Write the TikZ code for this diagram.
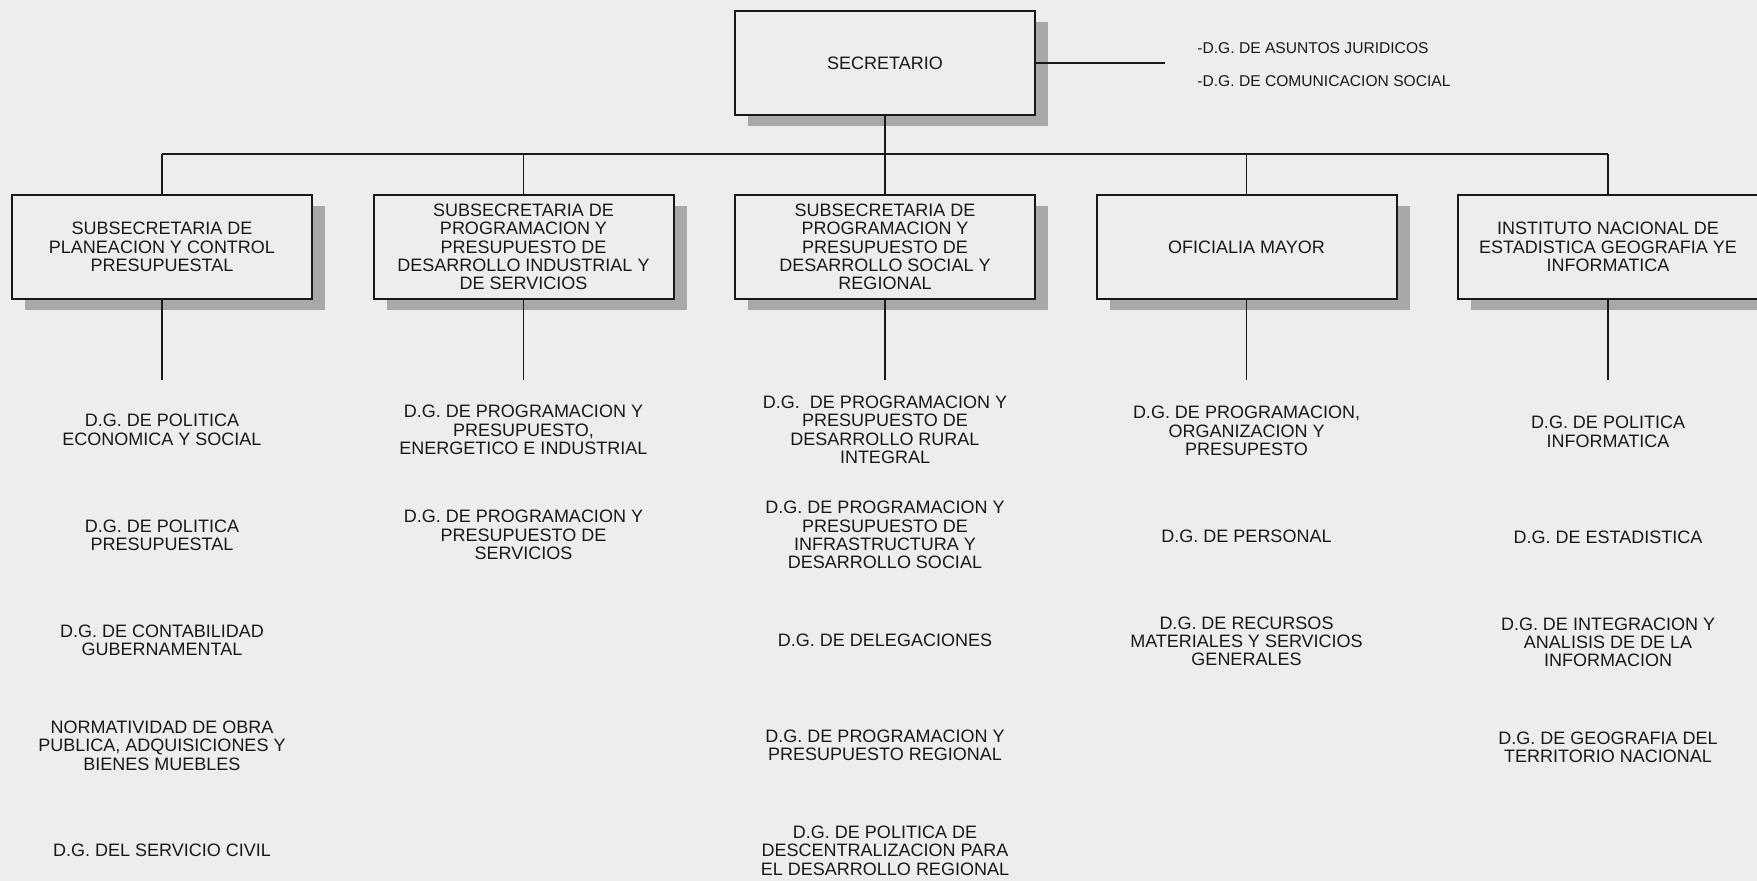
\documentclass[tikz,border=0pt]{standalone}
\usepackage{fontspec}
\setmainfont{Liberation Sans}
\usetikzlibrary{positioning, shadows}
\definecolor{paper}{RGB}{237,237,237}
\definecolor{shade}{RGB}{168,168,168}
\definecolor{ink}{RGB}{25,25,25}

\begin{document}
\begin{tikzpicture}[
    x=0.5pt, y=-0.5pt,
    every node/.style = {font=\fontsize{9}{9.2}\selectfont, text=ink, align=center, inner sep=0pt},
    unit/.style = {rectangle, draw=ink, line width=1pt, fill=paper,
        minimum width=150pt, minimum height=52pt,
        drop shadow={shadow xshift=6.5pt, shadow yshift=-5.5pt, fill=shade, opacity=1}},
    side/.style = {font=\fontsize{7.8}{8}\selectfont, anchor=west},
    link/.style = {draw=ink, line width=0.85pt},
    node distance = 52.6pt and 180.75pt, on grid
]
    \fill[paper] (0,0) rectangle (1757,881);
    \useasboundingbox (0,0) rectangle (1757,881);

    \node[unit] (sec) at (885,63) {SECRETARIO};
    \coordinate[right=64.5pt of sec.east] (secend);
    \node[side] (jur) at ([xshift=16pt, yshift=7.5pt]secend) {-D.G. DE ASUNTOS JURIDICOS};
    \node[side] (com) at ([xshift=16pt, yshift=-9pt]secend) {-D.G. DE COMUNICACION SOCIAL};

    \node[unit, below=92pt of sec] (sub3) {SUBSECRETARIA DE\\PROGRAMACION Y\\PRESUPUESTO DE\\DESARROLLO SOCIAL Y\\REGIONAL};
    \node[unit, left=of sub3] (sub2) {SUBSECRETARIA DE\\PROGRAMACION Y\\PRESUPUESTO DE\\DESARROLLO INDUSTRIAL Y\\DE SERVICIOS};
    \node[unit, left=of sub2] (sub1) {SUBSECRETARIA DE\\PLANEACION Y CONTROL\\PRESUPUESTAL};
    \node[unit, right=of sub3] (sub4) {OFICIALIA MAYOR};
    \node[unit, right=of sub4] (sub5) {INSTITUTO NACIONAL DE\\ESTADISTICA GEOGRAFIA YE\\INFORMATICA};

    % column 1
    \node[below=91.5pt of sub1] (c1a) {D.G. DE POLITICA\\ECONOMICA Y SOCIAL};
    \node[below=of c1a] (c1b) {D.G. DE POLITICA\\PRESUPUESTAL};
    \node[below=of c1b] (c1c) {D.G. DE CONTABILIDAD\\GUBERNAMENTAL};
    \node[below=of c1c] (c1d) {NORMATIVIDAD DE OBRA\\PUBLICA, ADQUISICIONES Y\\BIENES MUEBLES};
    \node[below=of c1d] (c1e) {D.G. DEL SERVICIO CIVIL};

    % column 2
    \node[below=91.5pt of sub2] (c2a) {D.G. DE PROGRAMACION Y\\PRESUPUESTO,\\ENERGETICO E INDUSTRIAL};
    \node[below=of c2a] (c2b) {D.G. DE PROGRAMACION Y\\PRESUPUESTO DE\\SERVICIOS};

    % column 3
    \node[below=91.5pt of sub3] (c3a) {D.G.\ \ DE PROGRAMACION Y\\PRESUPUESTO DE\\DESARROLLO RURAL\\INTEGRAL};
    \node[below=of c3a] (c3b) {D.G. DE PROGRAMACION Y\\PRESUPUESTO DE\\INFRASTRUCTURA Y\\DESARROLLO SOCIAL};
    \node[below=of c3b] (c3c) {D.G. DE DELEGACIONES};
    \node[below=of c3c] (c3d) {D.G. DE PROGRAMACION Y\\PRESUPUESTO REGIONAL};
    \node[below=of c3d] (c3e) {D.G. DE POLITICA DE\\DESCENTRALIZACION PARA\\EL DESARROLLO REGIONAL};

    % column 4
    \node[below=92pt of sub4] (c4a) {D.G. DE PROGRAMACION,\\ORGANIZACION Y\\PRESUPESTO};
    \node[below=of c4a] (c4b) {D.G. DE PERSONAL};
    \node[below=of c4b] (c4c) {D.G. DE RECURSOS\\MATERIALES Y SERVICIOS\\GENERALES};

    % column 5
    \node[below=92.5pt of sub5] (c5a) {D.G. DE POLITICA\\INFORMATICA};
    \node[below=of c5a] (c5b) {D.G. DE ESTADISTICA};
    \node[below=of c5b] (c5c) {D.G. DE INTEGRACION Y\\ANALISIS DE DE LA\\INFORMACION};
    \node[below=of c5c] (c5d) {D.G. DE GEOGRAFIA DEL\\TERRITORIO NACIONAL};

    % bus and drops
    \coordinate[above=20pt of sub1.north] (b1);
    \coordinate[above=20pt of sub2.north] (b2);
    \coordinate[above=20pt of sub4.north] (b4);
    \coordinate[above=20pt of sub5.north] (b5);
    \coordinate[below=40pt of sub1.south] (d1);
    \coordinate[below=40pt of sub2.south] (d2);
    \coordinate[below=40pt of sub3.south] (d3);
    \coordinate[below=40pt of sub4.south] (d4);
    \coordinate[below=40pt of sub5.south] (d5);

    \draw[link] (sec) -- (secend);
    \draw[link] (sec) -- (sub3);
    \draw[link] (b1) -- (b5);
    \draw[link] (b1) -- (sub1);
    \draw[link] (b2) -- (sub2);
    \draw[link] (b4) -- (sub4);
    \draw[link] (b5) -- (sub5);

    \draw[link] (sub1) -- (d1);
    \draw[link] (sub2) -- (d2);
    \draw[link] (sub3) -- (d3);
    \draw[link] (sub4) -- (d4);
    \draw[link] (sub5) -- (d5);
\end{tikzpicture}
\end{document}
